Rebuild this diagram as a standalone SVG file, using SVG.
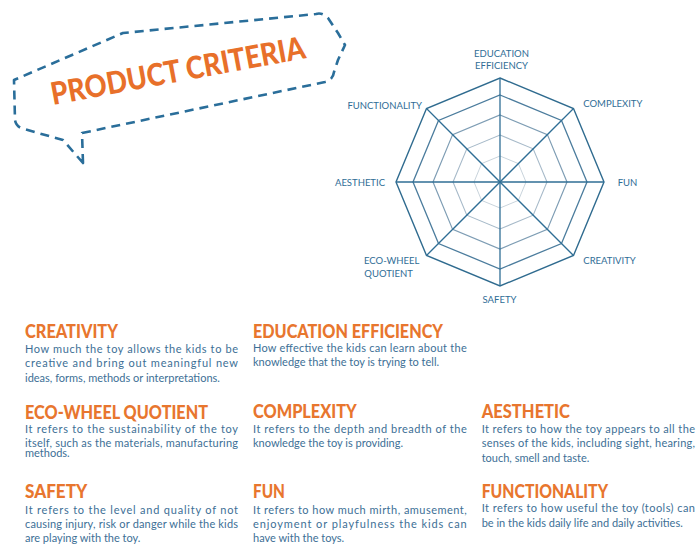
<svg xmlns="http://www.w3.org/2000/svg" width="696" height="544" viewBox="0 0 696 544">
<style>
.h{font-family:Lato,"Liberation Sans",Arial,sans-serif;font-weight:900;font-size:19px;fill:#e8762e}
.b{font-family:Lato,"Liberation Sans",Arial,sans-serif;font-size:11px;fill:#3d6f96}
.lab{font-family:Lato,"Liberation Sans",Arial,sans-serif;font-size:9.5px;fill:#2f6d96}
.ring{fill:none;stroke-linejoin:miter}
.ax{stroke:#2f6e95;stroke-width:1.3}
</style>
<rect width="696" height="544" fill="#ffffff"/>
<g id="title">
<path d="M83,163 L82,133 L325,82 Q333,80 334,72 L338,60 L345,45 L338,33 L328,18 Q322,12 316,14 L123,33 L14,80 L15,120 Q16,127 24,129 L63,140 Z" fill="none" stroke="#2a6e9a" stroke-width="2.6" stroke-dasharray="9 6" stroke-linejoin="round"/>
<text x="53" y="105" transform="rotate(-10.5 53 105)" font-family="Lato,'Liberation Sans',Arial,sans-serif" font-weight="900" font-size="31" fill="#e8702a" textLength="258" lengthAdjust="spacingAndGlyphs">PRODUCT CRITERIA</text>
</g>
<g id="radar">
<polygon class="ring" stroke="#c9d4dc" stroke-width="1" points="500,156 518.4,163.6 526,182 518.4,200.4 500,208 481.6,200.4 474,182 481.6,163.6"/>
<polygon class="ring" stroke="#a7bac9" stroke-width="1.1" points="500,135 533.2,148.8 547,182 533.2,215.2 500,229 466.8,215.2 453,182 466.8,148.8"/>
<polygon class="ring" stroke="#7e9db4" stroke-width="1.2" points="500,115 547.4,134.6 567,182 547.4,229.4 500,249 452.6,229.4 433,182 452.6,134.6"/>
<polygon class="ring" stroke="#4b7c9d" stroke-width="1.3" points="500,95 561.5,120.5 587,182 561.5,243.5 500,269 438.5,243.5 413,182 438.5,120.5"/>
<polygon class="ring" stroke="#2f6b8f" stroke-width="1.4" points="500,78 573.5,108.5 604,182 573.5,255.5 500,286 426.5,255.5 396,182 426.5,108.5"/>
</g>
<g id="connectors">
<line class="ax" x1="500" y1="78" x2="500" y2="286"/>
<line class="ax" x1="396" y1="182" x2="604" y2="182"/>
<line class="ax" x1="426.5" y1="108.5" x2="573.5" y2="255.5"/>
<line class="ax" x1="573.5" y1="108.5" x2="426.5" y2="255.5"/>
</g>
<g id="label-education">
<text class="lab" x="501.5" y="57.3" text-anchor="middle">EDUCATION</text>
<text class="lab" x="501.5" y="69.3" text-anchor="middle">EFFICIENCY</text>
</g>
<g id="label-complexity"><text class="lab" x="583.3" y="106.7">COMPLEXITY</text></g>
<g id="label-fun"><text class="lab" x="617.7" y="186">FUN</text></g>
<g id="label-creativity"><text class="lab" x="583.3" y="264.3">CREATIVITY</text></g>
<g id="label-safety"><text class="lab" x="499.5" y="303.3" text-anchor="middle">SAFETY</text></g>
<g id="label-eco">
<text class="lab" x="364" y="264.3">ECO-WHEEL</text>
<text class="lab" x="364.3" y="277.3">QUOTIENT</text>
</g>
<g id="label-aesthetic"><text class="lab" x="385" y="186" text-anchor="end">AESTHETIC</text></g>
<g id="label-functionality"><text class="lab" x="422" y="109.3" text-anchor="end">FUNCTIONALITY</text></g>

<g id="desc-creativity">
<text class="h" x="25" y="338.3" textLength="93" lengthAdjust="spacingAndGlyphs">CREATIVITY</text>
<text class="b" x="25" y="353.3" textLength="213" lengthAdjust="spacing">How much the toy allows the kids to be</text>
<text class="b" x="25" y="367.3" textLength="213" lengthAdjust="spacing">creative and bring out meaningful new</text>
<text class="b" x="25" y="381.7">ideas, forms, methods or interpretations.</text>
</g>
<g id="desc-eco">
<text class="h" x="25" y="419" textLength="183" lengthAdjust="spacingAndGlyphs">ECO-WHEEL QUOTIENT</text>
<text class="b" x="25" y="433.3" textLength="213" lengthAdjust="spacing">It refers to the sustainability of the toy</text>
<text class="b" x="25" y="447.3" textLength="213" lengthAdjust="spacing">itself, such as the materials, manufacturing</text>
<text class="b" x="25" y="456.7">methods.</text>
</g>
<g id="desc-safety">
<text class="h" x="25" y="498.3" textLength="62.3" lengthAdjust="spacingAndGlyphs">SAFETY</text>
<text class="b" x="25" y="514" textLength="213" lengthAdjust="spacing">It refers to the level and quality of not</text>
<text class="b" x="25" y="528.3" textLength="213" lengthAdjust="spacing">causing injury, risk or danger while the kids</text>
<text class="b" x="25" y="542.3">are playing with the toy.</text>
</g>
<g id="desc-education">
<text class="h" x="253" y="337.7" textLength="190" lengthAdjust="spacingAndGlyphs">EDUCATION EFFICIENCY</text>
<text class="b" x="253" y="351.7" textLength="213.7" lengthAdjust="spacing">How effective the kids can learn about the</text>
<text class="b" x="253" y="366">knowledge that the toy is trying to tell.</text>
</g>
<g id="desc-complexity">
<text class="h" x="253" y="418.3" textLength="103.7" lengthAdjust="spacingAndGlyphs">COMPLEXITY</text>
<text class="b" x="253" y="432.7" textLength="213.7" lengthAdjust="spacing">It refers to the depth and breadth of the</text>
<text class="b" x="253" y="446.7">knowledge the toy is providing.</text>
</g>
<g id="desc-fun">
<text class="h" x="253" y="498.3" textLength="32" lengthAdjust="spacingAndGlyphs">FUN</text>
<text class="b" x="253" y="514" textLength="213.7" lengthAdjust="spacing">It refers to how much mirth, amusement,</text>
<text class="b" x="253" y="528.3" textLength="213.7" lengthAdjust="spacing">enjoyment or playfulness the kids can</text>
<text class="b" x="253" y="542.3">have with the toys.</text>
</g>
<g id="desc-aesthetic">
<text class="h" x="481.7" y="418.3" textLength="88.3" lengthAdjust="spacingAndGlyphs">AESTHETIC</text>
<text class="b" x="481.7" y="432.7" textLength="213.3" lengthAdjust="spacing">It refers to how the toy appears to all the</text>
<text class="b" x="481.7" y="447.3" textLength="213.3" lengthAdjust="spacing">senses of the kids, including sight, hearing,</text>
<text class="b" x="481.7" y="461.7">touch, smell and taste.</text>
</g>
<g id="desc-functionality">
<text class="h" x="481.7" y="498.3" textLength="126.3" lengthAdjust="spacingAndGlyphs">FUNCTIONALITY</text>
<text class="b" x="481.7" y="512" textLength="213.3" lengthAdjust="spacing">It refers to how useful the toy (tools) can</text>
<text class="b" x="481.7" y="527">be in the kids daily life and daily activities.</text>
</g>
</svg>
